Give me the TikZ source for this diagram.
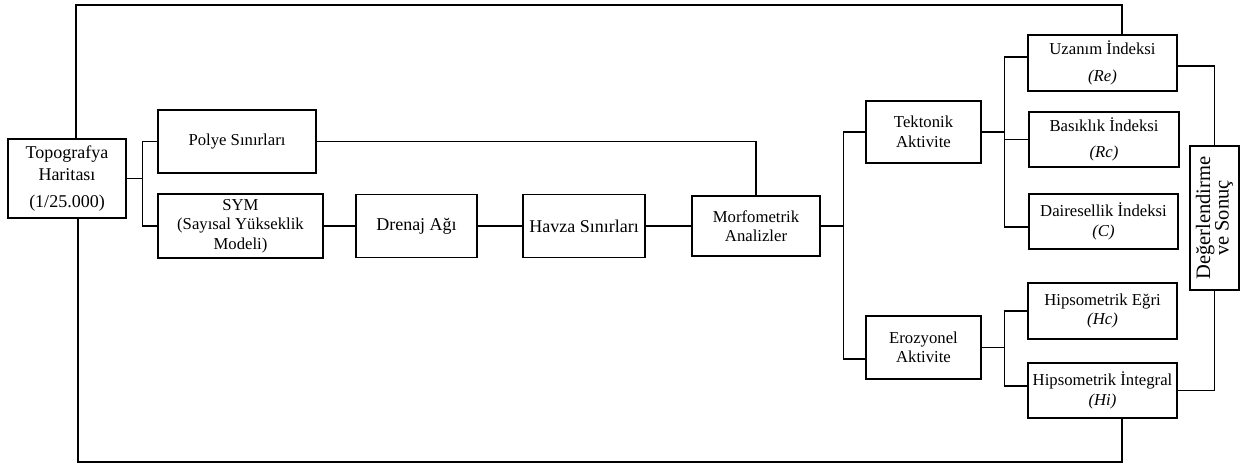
\documentclass[tikz,border=0pt]{standalone}
\usepackage{fontspec}
\setmainfont{Liberation Serif}

\tikzset{
  kutu/.style={draw, line width=1.6pt, inner sep=0pt, align=center, font=\fontsize{16.7}{19.5}\selectfont},
  buyuk/.style={font=\fontsize{18}{22}\selectfont},
  hat/.style={line width=1.3pt},
}

\begin{document}
\begin{tikzpicture}[x=1pt,y=-1pt]
        \useasboundingbox (0,0) rectangle (1247,464);

        \node[kutu, buyuk, minimum width=118pt, minimum height=79pt] (topo) at (67,178.5) {Topografya\\Haritası\\[5pt](1/25.000)};

        \node[kutu, minimum width=158pt, minimum height=63pt] (polye) at (237,141.5) {Polye Sınırları};
        \node[kutu, minimum width=165pt, minimum height=64pt] (sym) at (240.5,226) {SYM\\(Sayısal Yükseklik\\Modeli)};
        \node[kutu, buyuk, minimum width=121pt, minimum height=63pt] (drenaj) at (416.5,226) {Drenaj Ağı};
        \node[kutu, buyuk, minimum width=122pt, minimum height=63pt] (havza) at (584,226) {Havza Sınırları};
        \node[kutu, minimum width=128pt, minimum height=60pt] (morfo) at (756,226) {Morfometrik\\Analizler};

        \node[kutu, minimum width=115pt, minimum height=62pt] (tekto) at (923.5,132) {Tektonik\\Aktivite};
        \node[kutu, minimum width=115pt, minimum height=63pt] (eroz) at (923.5,347.5) {Erozyonel\\Aktivite};

        \node[kutu, minimum width=149pt, minimum height=56pt] (uzanim) at (1102.5,63) {Uzanım İndeksi\\[7pt]\textit{(Re)}};
        \node[kutu, minimum width=150pt, minimum height=55pt] (basik) at (1104,139.5) {Basıklık İndeksi\\[7pt]\textit{(Rc)}};
        \node[kutu, minimum width=149pt, minimum height=55pt] (daire) at (1103.5,221.5) {Dairesellik İndeksi\\\textit{(C)}};
        \node[kutu, minimum width=149pt, minimum height=56pt] (hc) at (1102.5,311) {Hipsometrik Eğri\\\textit{(Hc)}};
        \node[kutu, minimum width=149pt, minimum height=55pt] (hi) at (1102.5,390.5) {Hipsometrik İntegral\\\textit{(Hi)}};

        % rotated box: east is its top, west its bottom
        \node[kutu, rotate=90, minimum width=144pt, minimum height=49pt, font=\fontsize{20.5}{18.5}\selectfont] (degerl) at (1214.5,218) {Değerlendirme\\ve Sonuç};

        \coordinate (ust) at (1122,5);
        \coordinate (alt) at (1122,462);

        \draw[hat] ([xshift=9pt]topo.north) |- (ust) -- (uzanim.north -| ust);
        \draw[hat] ([xshift=11pt]topo.south) |- (alt) -- (hi.south -| alt);

        \draw[hat] (topo.east) -- ++(16,0) coordinate (d1);
        \draw[hat] (polye.west) -| (d1); \draw[hat] (sym.west) -| (d1);

        \draw[hat] (sym.east) -- (drenaj.west);
        \draw[hat] (drenaj.east) -- (havza.west);
        \draw[hat] (havza.east) -- (morfo.west);
        \draw[hat] (polye.east) -| (morfo.north);

        \draw[line width=2.4pt] (morfo.east) -- ++(23,0) coordinate (d2);
        \draw[hat] (tekto.west) -| (d2); \draw[hat] ([yshift=-11.5pt]eroz.west) -| (d2);

        \draw[hat] (tekto.east) -- ++(23,0) coordinate (d3);
        \draw[hat] ([yshift=6pt]uzanim.west) -| (d3);
        \draw[hat] (basik.west) -| (d3);
        \draw[hat] ([yshift=-5.5pt]daire.west) -| (d3);

        \draw[hat] (eroz.east) -- ++(23,0) coordinate (d4);
        \draw[hat] (hc.west) -| (d4); \draw[hat] ([yshift=4.5pt]hi.west) -| (d4);

        \draw[hat] ([yshift=-3pt]uzanim.east) -| (degerl.east);
        \draw[hat] (hi.east) -| (degerl.west);

    \end{tikzpicture}
\end{document}
